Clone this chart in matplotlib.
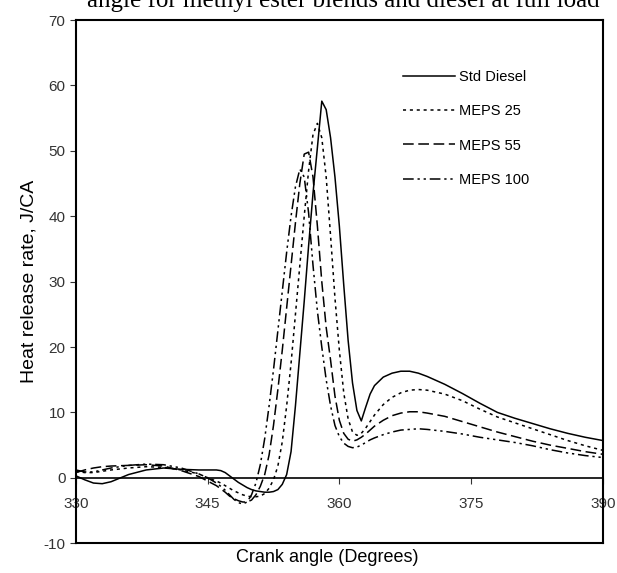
import matplotlib
matplotlib.use('Agg')
import matplotlib.pyplot as plt

plt.rcParams['font.family'] = ['Liberation Sans', 'DejaVu Sans']
plt.rcParams['axes.unicode_minus'] = False

# Crank angle grid (degrees)
angle = [330, 331, 332, 333, 334, 336, 338, 340, 342, 344, 345, 346,
         346.5, 347, 347.5, 348, 348.5, 349, 349.5, 350, 350.5, 351, 351.5, 352,
         352.5, 353, 353.5, 354, 354.5, 355, 355.5, 356, 356.5, 357, 357.5, 358,
         358.5, 359, 359.5, 360, 360.5, 361, 361.5, 362, 362.5, 363, 363.5, 364,
         365, 366, 367, 368, 369, 370, 372, 374, 376, 378, 380, 382, 384, 386, 388, 390]

std_diesel = [0.3, -0.3, -0.8, -0.9, -0.6, 0.5, 1.2, 1.5, 1.3, 1.2, 1.2, 1.2,
              1.1, 0.8, 0.3, -0.2, -0.7, -1.1, -1.5, -1.8, -2.0, -2.1, -2.2, -2.2,
              -2.1, -1.8, -1.0, 0.5, 4.0, 11.0, 19.0, 27.0, 35.5, 43.5, 50.5, 57.6,
              56.3, 52.0, 46.0, 38.5, 29.5, 21.0, 14.5, 10.3, 8.7, 10.8, 12.8, 14.1,
              15.4, 16.0, 16.3, 16.3, 16.0, 15.5, 14.3, 12.9, 11.4, 10.0, 9.1, 8.3, 7.5, 6.8, 6.2, 5.7]

meps25 = [1.0, 0.8, 0.8, 1.0, 1.2, 1.5, 1.7, 1.6, 1.2, 0.6, 0.0, -0.5,
          -0.8, -1.2, -1.6, -2.0, -2.3, -2.6, -2.8, -2.9, -2.9, -2.8, -2.4, -1.6,
          -0.3, 1.8, 5.5, 11.0, 17.5, 25.0, 32.5, 40.0, 47.0, 52.5, 54.2, 52.0,
          46.0, 37.0, 27.5, 19.5, 13.0, 9.0, 7.0, 6.5, 6.8, 7.6, 8.6, 9.6,
          11.2, 12.3, 13.0, 13.4, 13.5, 13.4, 12.8, 11.8, 10.5, 9.3, 8.4, 7.5, 6.6, 5.7, 4.9, 4.2]

meps55 = [0.8, 1.2, 1.5, 1.7, 1.8, 1.9, 2.0, 1.8, 1.1, 0.2, -0.5, -1.2,
          -1.7, -2.2, -2.8, -3.2, -3.5, -3.7, -3.7, -3.4, -2.6, -1.3, 0.5, 3.5,
          8.0, 13.5, 19.5, 26.0, 32.5, 39.0, 45.0, 49.5, 49.8, 46.0, 38.5, 30.0,
          23.0, 18.0, 12.5, 8.8, 6.8, 5.9, 5.6, 5.8, 6.2, 6.7, 7.3, 7.9,
          8.8, 9.5, 9.9, 10.1, 10.1, 9.9, 9.4, 8.6, 7.8, 7.0, 6.3, 5.6, 5.0, 4.5, 4.0, 3.6]

meps100 = [1.2, 0.9, 0.9, 1.2, 1.5, 1.9, 2.1, 2.0, 1.5, 0.6, 0.0, -0.8,
           -1.3, -1.9, -2.6, -3.3, -3.8, -4.0, -3.7, -2.6, -0.8, 2.0, 6.0, 11.0,
           16.5, 22.5, 28.5, 34.5, 40.0, 44.5, 47.2, 46.0, 40.5, 32.5, 25.5, 20.0,
           15.0, 11.0, 8.0, 6.3, 5.3, 4.8, 4.6, 4.7, 5.0, 5.4, 5.8, 6.1,
           6.6, 7.0, 7.3, 7.4, 7.5, 7.4, 7.1, 6.7, 6.2, 5.8, 5.4, 4.9, 4.3, 3.8, 3.4, 3.1]

labels = ['Std Diesel', 'MEPS 25', 'MEPS 55', 'MEPS 100']
x_ticks = [330, 345, 360, 375, 390]
y_ticks = [-10, 0, 10, 20, 30, 40, 50, 60, 70]

fig = plt.figure(figsize=(6.17, 5.73), dpi=100)
ax = fig.add_axes([0.123, 0.052, 0.854, 0.913])

styles = ['-', (0, (2, 2.5)), (0, (7, 3)), (0, (7, 2.5, 1.5, 2.5, 1.5, 2.5))]
for y, lab, ls in zip([std_diesel, meps25, meps55, meps100], labels, styles):
    ax.plot(angle, y, color='black', lw=1.1, ls=ls, label=lab)

ax.set_xlim(330, 390)
ax.set_ylim(-10, 70)
ax.set_xticks(x_ticks)
ax.set_yticks(y_ticks)
ax.spines['bottom'].set_position(('data', 0))
ax.axhline(-10, color='black', lw=1.5, clip_on=False)
for s in ['left', 'right', 'top']:
    ax.spines[s].set_linewidth(1.5)
ax.spines['bottom'].set_linewidth(1.2)
ax.tick_params(axis='both', labelsize=11, colors='#333333', length=4, direction='out')
ax.tick_params(axis='x', pad=10)

ax.set_ylabel('Heat release rate, J/CA', fontsize=14, labelpad=4)
fig.text(0.53, 0.012, 'Crank angle (Degrees)', ha='center', va='bottom', fontsize=13)

ax.legend(loc='upper left', bbox_to_anchor=(0.62, 0.905), frameon=False,
          borderpad=0, borderaxespad=0, handlelength=3.6, handletextpad=0.3,
          labelspacing=1.4, fontsize=10.5)

fig.text(0.556, 0.988, 'angle for methyl ester blends and diesel at full load',
         ha='center', va='baseline', fontsize=18, family='Liberation Serif')

fig.savefig('out.png', dpi=100)
